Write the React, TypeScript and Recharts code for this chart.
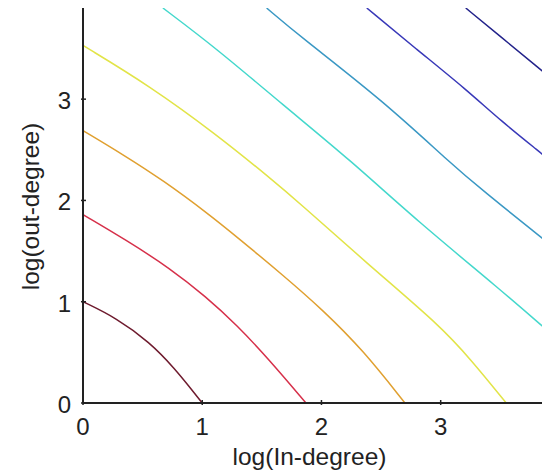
import { LineChart, Line, XAxis, YAxis, Label } from 'recharts';

// contour levels (x = log in-degree, y = log out-degree)
const level1 = [
  { x: 0, y: 1.0 }, { x: 0.28, y: 0.84 }, { x: 0.56, y: 0.6 }, { x: 0.77, y: 0.34 }, { x: 0.92, y: 0.12 }, { x: 1.0, y: 0 },
];
const level2 = [
  { x: 0, y: 1.86 }, { x: 0.36, y: 1.61 }, { x: 0.73, y: 1.33 }, { x: 1.03, y: 1.05 }, { x: 1.29, y: 0.77 }, { x: 1.56, y: 0.43 }, { x: 1.87, y: 0 },
];
const level3 = [
  { x: 0, y: 2.69 }, { x: 0.34, y: 2.45 }, { x: 0.67, y: 2.2 }, { x: 1.06, y: 1.86 }, { x: 1.29, y: 1.64 }, { x: 1.68, y: 1.26 }, { x: 2.01, y: 0.92 }, { x: 2.35, y: 0.52 }, { x: 2.7, y: 0 },
];
const level4 = [
  { x: 0, y: 3.53 }, { x: 0.56, y: 3.13 }, { x: 1.12, y: 2.65 }, { x: 1.56, y: 2.23 }, { x: 1.82, y: 1.97 }, { x: 2.38, y: 1.38 }, { x: 2.99, y: 0.77 }, { x: 3.26, y: 0.42 }, { x: 3.55, y: 0 },
];
const level5 = [
  { x: 0.67, y: 3.9 }, { x: 1.12, y: 3.5 }, { x: 1.68, y: 2.94 }, { x: 2.24, y: 2.4 }, { x: 2.8, y: 1.8 }, { x: 3.5, y: 1.12 }, { x: 3.9, y: 0.71 },
];
const level6 = [
  { x: 1.54, y: 3.9 }, { x: 1.82, y: 3.62 }, { x: 2.52, y: 2.98 }, { x: 3.08, y: 2.37 }, { x: 3.35, y: 2.1 }, { x: 3.85, y: 1.63 }, { x: 3.9, y: 1.58 },
];
const level7 = [
  { x: 2.38, y: 3.9 }, { x: 2.8, y: 3.49 }, { x: 3.22, y: 3.09 }, { x: 3.5, y: 2.79 }, { x: 3.85, y: 2.46 }, { x: 3.9, y: 2.41 },
];
const level8 = [
  { x: 3.21, y: 3.9 }, { x: 3.5, y: 3.62 }, { x: 3.85, y: 3.28 }, { x: 3.9, y: 3.23 },
];

const levels = [level1, level2, level3, level4, level5, level6, level7, level8];
const colors = ['#6e1b2e', '#d6304a', '#e0a030', '#e2e448', '#44d8cc', '#3a98c4', '#3838b8', '#22228a'];

const xTicks = [0, 1, 2, 3];
const yTicks = [0, 1, 2, 3];
const topTicks = [1, 2, 3];

const FONT = '"Liberation Sans", Arial, sans-serif';
const INK = '#222';

const BottomTick = (props: any) => {
  const { x, y, payload } = props;
  return (
    <g>
      <line x1={x} y1={y} x2={x} y2={y - 5} stroke={INK} strokeWidth={1.5} />
      <text x={x} y={y + 30} textAnchor="middle" fontSize={24} fontFamily={FONT} fill={INK}>
        {payload.value}
      </text>
    </g>
  );
};

const LeftTick = (props: any) => {
  const { x, y, payload } = props;
  return (
    <g>
      <line x1={x} y1={y} x2={x + 5} y2={y} stroke={INK} strokeWidth={1.5} />
      <text x={x - 10} y={y + 10} textAnchor="end" fontSize={24} fontFamily={FONT} fill={INK}>
        {payload.value}
      </text>
    </g>
  );
};

const TopTick = (props: any) => {
  const { x, y } = props;
  return <line x1={x} y1={y} x2={x} y2={y + 5} stroke={INK} strokeWidth={1.5} />;
};

export default function App() {
  return (
    <div style={{ position: 'fixed', left: 0, top: 0, width: 542, height: 474, overflow: 'hidden', background: '#fff' }}>
      <LineChart width={560} height={474} margin={{ top: 8, right: 12, bottom: 0, left: 0 }}>
        <XAxis
          type="number"
          dataKey="x"
          domain={[0, 3.9]}
          ticks={xTicks}
          allowDataOverflow
          height={71}
          tickSize={0}
          tickLine={false}
          axisLine={{ stroke: INK, strokeWidth: 2 }}
          tick={<BottomTick />}
        >
          <Label
            content={({ viewBox }: any) => (
              <text
                x={viewBox.x + viewBox.width / 2 - 6}
                y={viewBox.y + 62}
                textAnchor="middle"
                fontSize={24.5}
                fontFamily={FONT}
                fill={INK}
              >
                log(In-degree)
              </text>
            )}
          />
        </XAxis>
        <XAxis
          xAxisId="top"
          orientation="top"
          type="number"
          dataKey="x"
          domain={[0, 3.9]}
          ticks={topTicks}
          allowDataOverflow
          height={0}
          tickSize={0}
          tickLine={false}
          axisLine={{ stroke: INK, strokeWidth: 2 }}
          tick={<TopTick />}
        />
        <YAxis
          type="number"
          dataKey="y"
          domain={[0, 3.9]}
          ticks={yTicks}
          allowDataOverflow
          width={83}
          tickSize={0}
          tickLine={false}
          axisLine={{ stroke: INK, strokeWidth: 2 }}
          tick={<LeftTick />}
        >
          <Label
            content={({ viewBox }: any) => {
              const cx = viewBox.x + 30;
              const cy = viewBox.y + viewBox.height / 2 + 1;
              return (
                <text
                  x={cx}
                  y={cy}
                  transform={`rotate(-90, ${cx}, ${cy})`}
                  textAnchor="middle"
                  dominantBaseline="central"
                  fontSize={24.5}
                  fontFamily={FONT}
                  fill={INK}
                >
                  log(out-degree)
                </text>
              );
            }}
          />
        </YAxis>
        {levels.map((d, i) => (
          <Line
            key={i}
            data={d}
            dataKey="y"
            type="basis"
            stroke={colors[i]}
            strokeWidth={1.5}
            dot={false}
            activeDot={false}
            isAnimationActive={false}
          />
        ))}
      </LineChart>
    </div>
  );
}
